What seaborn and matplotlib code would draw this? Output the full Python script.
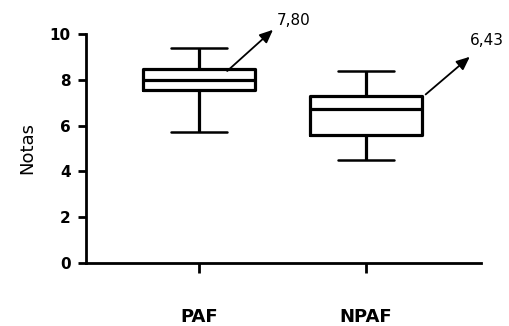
import matplotlib
matplotlib.use("Agg")
import matplotlib.pyplot as plt
import seaborn as sns
import pandas as pd

# five-number summaries (min, q1, median, q3, max)
groups = ["PAF", "NPAF"]
paf = [5.7, 7.55, 8.0, 8.45, 9.4]
npaf = [4.5, 5.6, 6.72, 7.28, 8.4]
means = ["7,80", "6,43"]
yticks = [0, 2, 4, 6, 8, 10]

df = pd.DataFrame({
    "grupo": [groups[0]] * len(paf) + [groups[1]] * len(npaf),
    "nota": paf + npaf,
})

sns.set_style("white")
plt.rcParams["font.family"] = ["DejaVu Sans"]
plt.rcParams["text.color"] = "black"
plt.rcParams["axes.labelcolor"] = "black"
plt.rcParams["xtick.color"] = "black"
plt.rcParams["ytick.color"] = "black"

fig = plt.figure(figsize=(5.1, 3.26), dpi=100)
ax = fig.add_axes([0.169, 0.193, 0.774, 0.703])

sns.boxplot(data=df, x="grupo", y="nota", order=groups, whis=(0, 100),
            width=0.67, fill=False, color="black", linewidth=2.3,
            capprops=dict(color="black", linewidth=1.8), ax=ax)

ax.set_ylim(0, 10)
ax.set_xlim(-0.677, 1.689)
ax.set_yticks(yticks)
ax.set_ylabel("Notas", fontsize=13, labelpad=10)
ax.set_xlabel("")
for s in ["top", "right"]:
    ax.spines[s].set_visible(False)
for s in ["left", "bottom"]:
    ax.spines[s].set_linewidth(2)
    ax.spines[s].set_color("black")
ax.tick_params(axis="y", direction="out", length=6, width=2, labelsize=11, pad=5, left=True)
ax.tick_params(axis="x", direction="out", length=7, width=2, labelsize=13, pad=25, bottom=True)
for lab in ax.get_xticklabels() + ax.get_yticklabels():
    lab.set_fontweight("bold")

# mean annotations with arrows
ax.annotate("", xy=(0.455, 10.26), xytext=(0.156, 8.3),
            arrowprops=dict(arrowstyle="-|>,head_length=0.8,head_width=0.35",
                            color="black", lw=1.3), annotation_clip=False)
ax.text(0.465, 10.6, means[0], fontsize=11, va="center", ha="left")
ax.annotate("", xy=(1.635, 9.08), xytext=(1.345, 7.28),
            arrowprops=dict(arrowstyle="-|>,head_length=0.8,head_width=0.35",
                            color="black", lw=1.3), annotation_clip=False)
ax.text(1.625, 9.4, means[1], fontsize=11, va="bottom", ha="left")

fig.savefig("out.png", dpi=100)
